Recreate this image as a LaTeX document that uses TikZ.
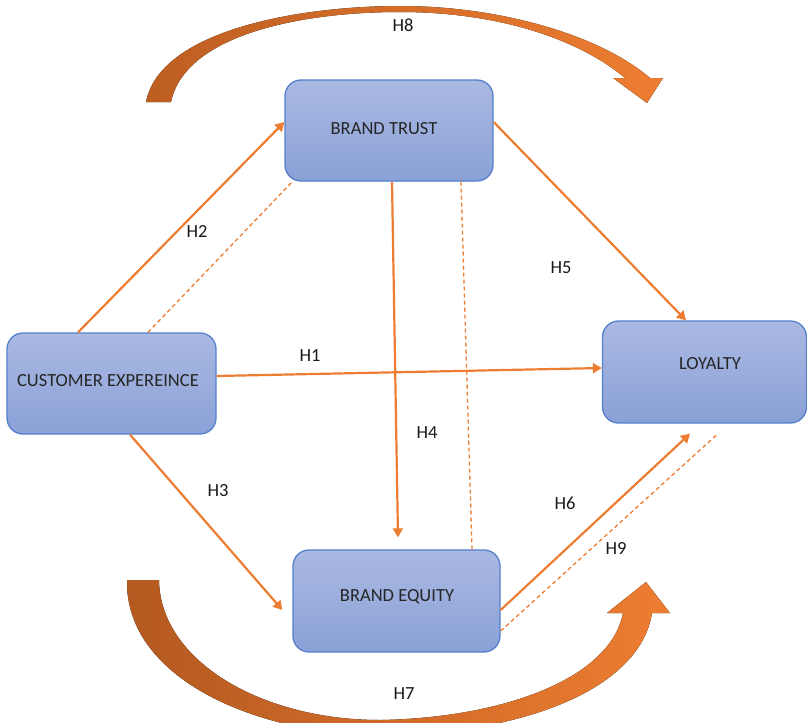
\documentclass[tikz,border=0pt]{standalone}
\usepackage{fontspec}
\setmainfont{Carlito}
\usetikzlibrary{arrows.meta}

\definecolor{accent}{HTML}{ED7D31}
\definecolor{accentdark}{HTML}{BD5E22}
\definecolor{boxtop}{HTML}{AAB9E2}
\definecolor{boxbottom}{HTML}{8AA1D7}
\definecolor{boxline}{HTML}{5580CC}
\definecolor{textgray}{HTML}{262626}

\begin{document}
\begin{tikzpicture}[x=1pt,y=-1pt,
  every node/.style={font=\fontsize{18.5}{22}\selectfont},
  box/.style={draw=boxline, line width=1.3pt, rounded corners=16pt,
    top color=boxtop, bottom color=boxbottom, inner sep=0pt},
  boxtext/.style={text=textgray, inner sep=0pt},
  hyp/.style={text=black!90, inner sep=1pt},
  link/.style={draw=accent, line width=2.2pt,
    -{Triangle[length=9pt,width=10pt]}},
  corr/.style={draw=accent, line width=1.3pt, dash pattern=on 4pt off 3pt}]

\useasboundingbox (0,0) rectangle (807,723);

% constructs
\node[box, minimum width=208pt, minimum height=101pt] (bt) at (389,130.5) {};
\node[box, minimum width=209pt, minimum height=101pt] (ce) at (111.5,383.5) {};
\node[box, minimum width=204pt, minimum height=102pt] (lo) at (704.5,372) {};
\node[box, minimum width=207pt, minimum height=102pt] (be) at (396.5,601) {};

\node[boxtext] (bt-t) at (384,129) {BRAND TRUST};
\node[boxtext] (ce-t) at (108,381) {CUSTOMER EXPEREINCE};
\node[boxtext] (lo-t) at (710,364) {LOYALTY};
\node[boxtext] (be-t) at (397,597) {BRAND EQUITY};

% direct paths
\draw[link] ([xshift=-33.5pt]ce.north) -- ([yshift=8.5pt]bt.west);
\draw[corr] ([xshift=36.5pt]ce.north) -- ([xshift=8pt]bt.south west);
\draw[link] ([yshift=7.5pt]ce.east) -- ([yshift=4pt]lo.west);
\draw[link] ([yshift=8.5pt]bt.east) -- ([xshift=-18.5pt]lo.north);
\draw[link] ([xshift=3pt]bt.south) -- ([xshift=1.5pt,yshift=12pt]be.north);
\draw[corr] ([xshift=72pt]bt.south) -- ([xshift=75.5pt]be.north);
\draw[link] ([xshift=18.5pt]ce.south) -- ([xshift=-10pt,yshift=-9pt]be.west);
\draw[link] ([yshift=-9pt]be.east) -- ([xshift=-14.5pt,yshift=-10pt]lo.south);
\draw[corr] ([yshift=-30pt]be.east) -- ([xshift=13.5pt,yshift=-10pt]lo.south);

% mediated path over the top
\fill[left color=accentdark, right color=accent]
  (146,102) .. controls (160,30) and (300,6) .. (400,6)
  .. controls (500,6) and (600,35) .. (650,78)
  -- (663,78) -- (647,103) -- (613,78) -- (625,78)
  .. controls (580,40) and (500,12) .. (400,12)
  .. controls (300,12) and (185,35) .. (171,102) -- cycle;

% mediated path along the bottom
\begin{scope}
\clip (0,0) rectangle (807,723);
\fill[left color=accentdark!95!black, right color=accent]
  (127,580) .. controls (125,680) and (260,735) .. (380,735)
  .. controls (520,735) and (640,690) .. (652,613)
  -- (670,613) -- (646,582) -- (607,613) -- (623,613)
  .. controls (610,680) and (500,718) .. (380,720)
  .. controls (260,720) and (160,660) .. (159,580) -- cycle;
\end{scope}

% hypothesis labels
\node[hyp] (h8) at (403,25) {H8};
\node[hyp] (h2) at (197,231) {H2};
\node[hyp] (h5) at (561,268) {H5};
\node[hyp] (h1) at (310,356) {H1};
\node[hyp] (h4) at (427,433) {H4};
\node[hyp] (h3) at (218,491) {H3};
\node[hyp] (h6) at (565,503) {H6};
\node[hyp] (h9) at (616,548) {H9};
\node[hyp] (h7) at (404,694) {H7};
\end{tikzpicture}
\end{document}
